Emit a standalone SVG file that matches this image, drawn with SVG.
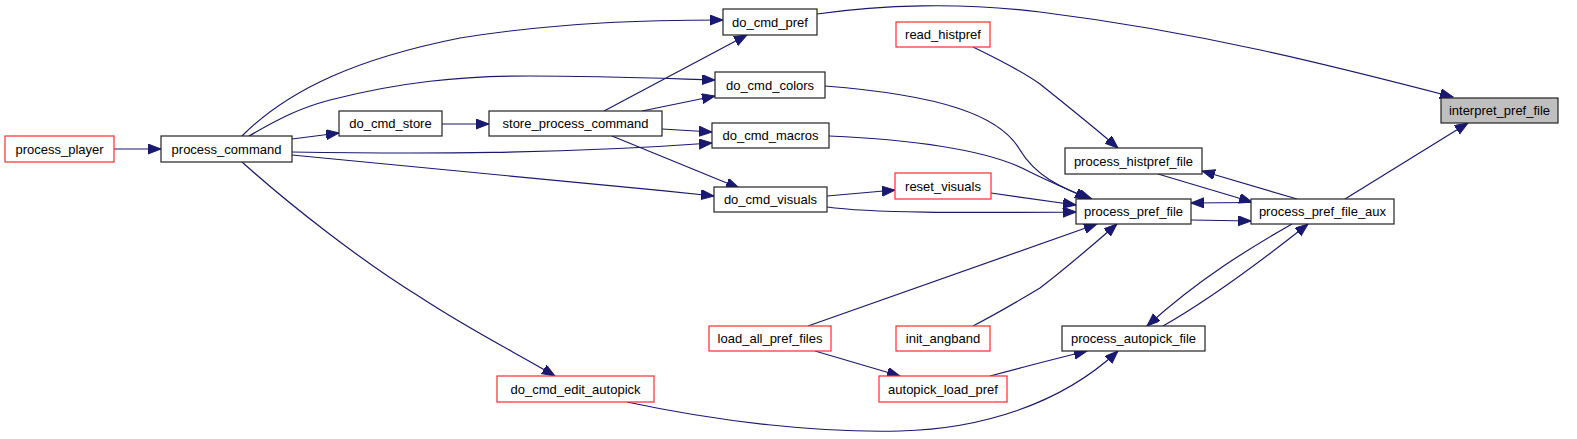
<svg xmlns="http://www.w3.org/2000/svg" width="1577" height="439" viewBox="0 0 1577 439">
<style>
.n rect{fill:#fff;stroke:#222;stroke-width:1.2}
.n.r rect{stroke:#ff2a2a}
.n.g rect{fill:#bfbfbf}
.n text{font-family:"Liberation Sans",Arial,sans-serif;font-size:13px;fill:#000;text-anchor:middle}
#edges path{fill:none;stroke:#191970;stroke-width:1.2;marker-end:url(#ah)}
</style>
<defs>
<marker id="ah" markerUnits="userSpaceOnUse" markerWidth="14" markerHeight="12" refX="13" refY="5" orient="auto">
<path d="M0,0 L13,5 L0,10 z" fill="#191970" stroke="#191970" stroke-width="1"/>
</marker>
</defs>
<rect width="1577" height="439" fill="#fff"/>
<g id="edges">
<path d="M114,149 L161,149"/>
<path d="M292,139 L339,133"/>
<path d="M442,124 L489,124"/>
<path d="M242,136 C290,88 360,58 460,38 C560,22 650,20 723,20"/>
<path d="M249,136 C280,118 300,108 330,100 C400,82 460,76 530,76 C600,76 650,78 715,80"/>
<path d="M604,111 L747,35"/>
<path d="M642,111 L715,96"/>
<path d="M662,129 L712,132"/>
<path d="M292,152 C420,154 560,154 712,143"/>
<path d="M612,136 L739,188"/>
<path d="M292,155 C450,170 580,182 714,196"/>
<path d="M242,162 C290,205 360,260 420,297 C470,330 520,355 555,376"/>
<path d="M817,14 C880,5 960,2 1040,12 C1200,32 1330,65 1453,97"/>
<path d="M973,47 C1000,60 1020,70 1040,84 C1070,108 1095,128 1118,148"/>
<path d="M1158,174 L1252,202"/>
<path d="M1297,199 L1202,171"/>
<path d="M1345,199 L1468,123"/>
<path d="M1251,202.5 L1191,203"/>
<path d="M1191,220 L1251,221"/>
<path d="M825,86 C940,95 1000,115 1020,150 C1035,175 1060,188 1092,199"/>
<path d="M829,136 C920,140 990,150 1030,172 C1050,182 1070,190 1088,199"/>
<path d="M991,193 L1076,205"/>
<path d="M827,207 C870,213 960,213 1076,212"/>
<path d="M827,196 L895,190"/>
<path d="M808,326 L1097,224"/>
<path d="M973,326 C1000,312 1020,300 1040,288 C1070,265 1095,243 1117,224"/>
<path d="M1292,224 C1250,248 1200,278 1147,326"/>
<path d="M1163,326 C1200,305 1250,270 1308,224"/>
<path d="M815,351 L900,376"/>
<path d="M990,376 C1020,368 1050,360 1087,351"/>
<path d="M627,402 C720,422 820,433 900,431 C980,429 1060,405 1118,351"/>
</g>
<g id="process_player" class="n r"><rect x="5" y="136" width="109" height="26"/><text x="59.5" y="153.5">process_player</text></g>
<g id="process_command" class="n"><rect x="161" y="136" width="131" height="26"/><text x="226.5" y="153.5">process_command</text></g>
<g id="do_cmd_store" class="n"><rect x="339" y="111" width="103" height="25"/><text x="390.5" y="128">do_cmd_store</text></g>
<g id="store_process_command" class="n"><rect x="489" y="111" width="173" height="25"/><text x="575.5" y="128">store_process_command</text></g>
<g id="do_cmd_pref" class="n"><rect x="723" y="9" width="94" height="26"/><text x="770" y="26.5">do_cmd_pref</text></g>
<g id="do_cmd_colors" class="n"><rect x="715" y="72" width="110" height="26"/><text x="770" y="89.5">do_cmd_colors</text></g>
<g id="do_cmd_macros" class="n"><rect x="712" y="123" width="117" height="25"/><text x="770.5" y="140">do_cmd_macros</text></g>
<g id="do_cmd_visuals" class="n"><rect x="714" y="187" width="113" height="25"/><text x="770.5" y="204">do_cmd_visuals</text></g>
<g id="read_histpref" class="n r"><rect x="896" y="22" width="94" height="25"/><text x="943" y="39">read_histpref</text></g>
<g id="reset_visuals" class="n r"><rect x="895" y="173" width="96" height="26"/><text x="943" y="190.5">reset_visuals</text></g>
<g id="interpret_pref_file" class="n g"><rect x="1441" y="98" width="117" height="25"/><text x="1499.5" y="115">interpret_pref_file</text></g>
<g id="process_histpref_file" class="n"><rect x="1065" y="148" width="137" height="26"/><text x="1133.5" y="165.5">process_histpref_file</text></g>
<g id="process_pref_file" class="n"><rect x="1076" y="199" width="115" height="25"/><text x="1133.5" y="216">process_pref_file</text></g>
<g id="process_pref_file_aux" class="n"><rect x="1251" y="199" width="143" height="25"/><text x="1322.5" y="216">process_pref_file_aux</text></g>
<g id="process_autopick_file" class="n"><rect x="1062" y="326" width="143" height="25"/><text x="1133.5" y="343">process_autopick_file</text></g>
<g id="load_all_pref_files" class="n r"><rect x="709" y="326" width="122" height="25"/><text x="770" y="343">load_all_pref_files</text></g>
<g id="init_angband" class="n r"><rect x="896" y="326" width="94" height="25"/><text x="943" y="343">init_angband</text></g>
<g id="autopick_load_pref" class="n r"><rect x="879" y="376" width="128" height="26"/><text x="943" y="393.5">autopick_load_pref</text></g>
<g id="do_cmd_edit_autopick" class="n r"><rect x="497" y="376" width="157" height="26"/><text x="575.5" y="393.5">do_cmd_edit_autopick</text></g>
</svg>
